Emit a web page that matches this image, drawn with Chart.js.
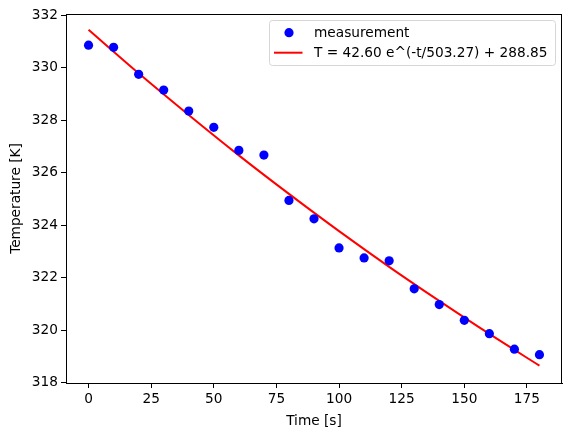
<!DOCTYPE html>
<html>
<head>
<meta charset="utf-8">
<script src="https://cdn.jsdelivr.net/npm/chart.js@4"></script>
<style>
  html, body { margin: 0; padding: 0; background: #fff; }
  #wrap { width: 571px; height: 436px; }
</style>
</head>
<body>
<div id="wrap"><canvas id="grafico"></canvas></div>
<script>
// dados
const tempos = [0, 10, 20, 30, 40, 50, 60, 70, 80, 90, 100, 110, 120, 130, 140, 150, 160, 170, 180];
const medidas = [330.86, 330.78, 329.75, 329.15, 328.35, 327.73, 326.85, 326.67, 324.94, 324.24,
                 323.13, 322.75, 322.64, 321.57, 320.97, 320.37, 319.86, 319.27, 319.06];
const temposAjuste = [0, 20, 40, 60, 80, 100, 120, 140, 160, 180];
const valoresAjuste = [331.45, 329.79, 328.20, 326.66, 325.19, 323.77, 322.41, 321.11, 319.85, 318.64];
const ticksX = [0, 25, 50, 75, 100, 125, 150, 175];
const ticksY = [318, 320, 322, 324, 326, 328, 330, 332];
const rotulos = ['measurement', 'T = 42.60 e^(-t/503.27) + 288.85'];

const fonte = { family: 'DejaVu Sans', size: 13.7 };

// moldura + legenda estilo matplotlib
const molduraLegenda = {
    id: 'molduraLegenda',
    afterDraw(chart) {
        const ctx = chart.ctx;
        const a = chart.chartArea;
        ctx.save();
        ctx.strokeStyle = '#000';
        ctx.lineWidth = 1;
        ctx.strokeRect(Math.round(a.left) + 0.5, Math.round(a.top) + 0.5,
                       Math.round(a.right - a.left) - 1, Math.round(a.bottom - a.top));

        // caixa da legenda
        const bx = 269.5, by = 20.5, bw = 286, bh = 45;
        ctx.fillStyle = 'rgba(255,255,255,0.8)';
        ctx.strokeStyle = '#d6d6d6';
        ctx.beginPath();
        ctx.roundRect(bx, by, bw, bh, 3);
        ctx.fill();
        ctx.stroke();

        ctx.font = fonte.size + 'px ' + fonte.family;
        ctx.textBaseline = 'middle';

        // marcador
        ctx.fillStyle = '#0000ff';
        ctx.beginPath();
        ctx.arc(289, 32.7, 4.6, 0, Math.PI * 2);
        ctx.fill();
        ctx.fillStyle = '#000';
        ctx.fillText(rotulos[0], 314, 33);

        // linha
        ctx.strokeStyle = '#ff0000';
        ctx.lineWidth = 2;
        ctx.beginPath();
        ctx.moveTo(274, 52.7);
        ctx.lineTo(302.5, 52.7);
        ctx.stroke();
        ctx.fillText(rotulos[1], 314, 53);
        ctx.restore();
    }
};

new Chart(document.getElementById('grafico'), {
    type: 'scatter',
    data: {
        datasets: [
            {
                label: rotulos[0],
                data: tempos.map((t, i) => ({ x: t, y: medidas[i] })),
                backgroundColor: '#0000ff',
                borderWidth: 0,
                pointRadius: 4.6,
                order: 1
            },
            {
                label: rotulos[1],
                data: temposAjuste.map((t, i) => ({ x: t, y: valoresAjuste[i] })),
                showLine: true,
                borderColor: '#ff0000',
                borderWidth: 2,
                pointRadius: 0,
                tension: 0.3,
                order: 2
            }
        ]
    },
    options: {
        responsive: true,
        maintainAspectRatio: false,
        animation: false,
        layout: { padding: { top: 14, right: 9, left: 0, bottom: 0 } },
        plugins: { legend: { display: false }, tooltip: { enabled: false } },
        scales: {
            x: {
                type: 'linear',
                min: -9, max: 189,
                afterBuildTicks: s => { s.ticks = ticksX.map(v => ({ value: v })); },
                afterFit: s => { s.height = 53; },
                grid: { drawOnChartArea: false, drawTicks: true, tickLength: 5, color: '#000' },
                border: { display: true, color: '#000' },
                ticks: { color: '#000', font: fonte, padding: 3, maxRotation: 0 },
                title: { display: true, text: 'Time [s]', color: '#000', font: fonte, padding: { top: 2, bottom: 6 } }
            },
            y: {
                min: 317.98, max: 332.05,
                afterBuildTicks: s => { s.ticks = ticksY.map(v => ({ value: v })); },
                afterFit: s => { s.width = 66; },
                grid: { drawOnChartArea: false, drawTicks: true, tickLength: 5, color: '#000' },
                border: { display: true, color: '#000' },
                ticks: { color: '#000', font: fonte, padding: 3 },
                title: { display: true, text: 'Temperature [K]', color: '#000', font: fonte, padding: { top: 8.5, bottom: 2 } }
            }
        }
    },
    plugins: [molduraLegenda]
});
</script>
</body>
</html>
